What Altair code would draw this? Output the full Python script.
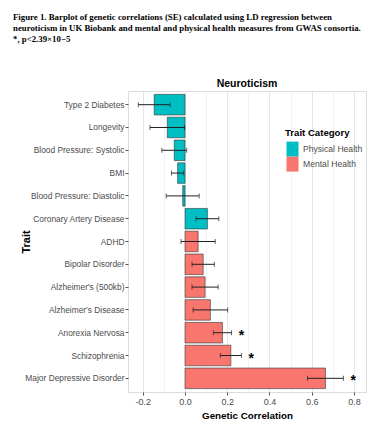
import altair as alt
import pandas as pd

traits = ["Type 2 Diabetes", "Longevity", "Blood Pressure: Systolic", "BMI",
          "Blood Pressure: Diastolic", "Coronary Artery Disease", "ADHD",
          "Bipolar Disorder", "Alzheimer's (500kb)", "Alzheimer's Disease",
          "Anorexia Nervosa", "Schizophrenia", "Major Depressive Disorder"]
rg = [-0.146, -0.084, -0.051, -0.035, -0.011, 0.106, 0.062, 0.086, 0.095, 0.12, 0.177, 0.217, 0.665]
se = [0.075, 0.082, 0.059, 0.029, 0.078, 0.054, 0.081, 0.053, 0.062, 0.082, 0.043, 0.05, 0.085]
category = ["Physical Health"] * 6 + ["Mental Health"] * 7
significant = [False] * 10 + [True] * 3
categories = ["Physical Health", "Mental Health"]
cat_colors = ["#00BFC4", "#F8766D"]
tick_values = [-0.2, -0.1, 0.0, 0.1, 0.2, 0.3, 0.4, 0.5, 0.6, 0.7, 0.8]
caption_lines = [
    "Figure 1. Barplot of genetic correlations (SE) calculated using LD regression between",
    "neuroticism in UK Biobank and mental and physical health measures from GWAS consortia.",
    "*, p<2.39\u00d710\u22125",
]
panel_title = "Neuroticism"

df = pd.DataFrame({"Trait": traits, "rg": rg, "se": se, "Category": category, "sig": significant})
df["lo"] = df["rg"] - df["se"]
df["hi"] = df["rg"] + df["se"]
df["star_x"] = df["hi"] + 0.047

SANS = "Liberation Sans, Arial"
minor_test = "abs(round(datum.value*10)) % 2 == 1"

xscale = alt.Scale(domain=[-0.27, 0.857], nice=False, zero=False)
yenc = alt.Y("Trait:N", sort=traits,
             scale=alt.Scale(paddingInner=0.1, paddingOuter=0.15),
             axis=alt.Axis(title="Trait", titleFont=SANS, titleFontSize=11, titleFontWeight="bold",
                           titleColor="black", titleX=-99, titleBaseline="alphabetic",
                           labelFont=SANS, labelFontSize=8.4, labelColor="#4d4d4d",
                           labelPadding=1, tickSize=3, tickColor="#555", domain=False, grid=False))

xaxis = alt.Axis(values=tick_values, title="Genetic Correlation",
                 labelExpr="abs(round(datum.value*10)) % 2 == 1 ? '' : replace(format(datum.value, '.1f'), '\u2212', '-')",
                 tickOpacity={"condition": {"test": minor_test, "value": 0}, "value": 1},
                 gridColor={"condition": {"test": minor_test, "value": "#f2f2f2"}, "value": "#e6e6e6"},
                 gridWidth=1, tickSize=3, tickColor="#555", labelPadding=2, domain=False,
                 labelFont=SANS, labelFontSize=9, labelColor="#4d4d4d",
                 titleFont=SANS, titleFontSize=9.8, titleFontWeight="bold", titleColor="black",
                 titleY=26, titleBaseline="alphabetic")

base = alt.Chart(df)

bars = base.mark_bar(stroke="#333", strokeWidth=0.6).encode(
    x=alt.X("rg:Q", scale=xscale, axis=xaxis),
    y=yenc,
    color=alt.Color("Category:N", scale=alt.Scale(domain=categories, range=cat_colors),
                    legend=alt.Legend(title="Trait Category", orient="none", legendX=157, legendY=37,
                                      titleFont=SANS, titleFontSize=9.6, titleFontWeight="bold",
                                      titleColor="black", titlePadding=4,
                                      labelFont=SANS, labelFontSize=8.6, labelColor="#4d4d4d",
                                      labelOffset=3,
                                      symbolType="M-0.8,-1H0.8V1H-0.8Z", symbolSize=225,
                                      symbolStrokeWidth=0, symbolOpacity=1, rowPadding=0)),
)

rule = base.mark_rule(color="#222", strokeWidth=1).encode(
    x=alt.X("lo:Q", scale=xscale, axis=xaxis), x2="hi:Q", y=yenc)
cap_lo = base.mark_tick(color="#222", size=5, thickness=1).encode(
    x=alt.X("lo:Q", scale=xscale, axis=xaxis), y=yenc)
cap_hi = base.mark_tick(color="#222", size=5, thickness=1).encode(
    x=alt.X("hi:Q", scale=xscale, axis=xaxis), y=yenc)
stars = base.transform_filter("datum.sig").mark_text(
    text="*", fontSize=14, fontWeight="bold", color="black", baseline="middle", dy=3,
    font="Liberation Sans").encode(
    x=alt.X("star_x:Q", scale=xscale, axis=xaxis), y=yenc)

one = pd.DataFrame({"k": [0]})
caption = alt.Chart(one).mark_text(
    align="left", baseline="top", font="Liberation Serif", fontWeight="bold", fontSize=8.8,
    lineHeight=11, color="black").encode(
    x=alt.value(-115), y=alt.value(-78), text=alt.value(caption_lines))
title_txt = alt.Chart(one).mark_text(
    align="center", baseline="middle", font=SANS, fontWeight="bold", fontSize=10.5,
    color="black").encode(
    x=alt.value(119), y=alt.value(-7), text=alt.value(panel_title))

chart = alt.layer(bars, rule, cap_lo, cap_hi, stars, caption, title_txt).properties(
    width=238, height=301,
    autosize=alt.AutoSizeParams(type="none"),
    padding={"left": 120, "top": 83, "right": 11, "bottom": 34},
).configure_view(stroke="#555", strokeWidth=1).configure(background="white")

chart.save("out.html", embed_options={"renderer": "svg", "actions": False})
